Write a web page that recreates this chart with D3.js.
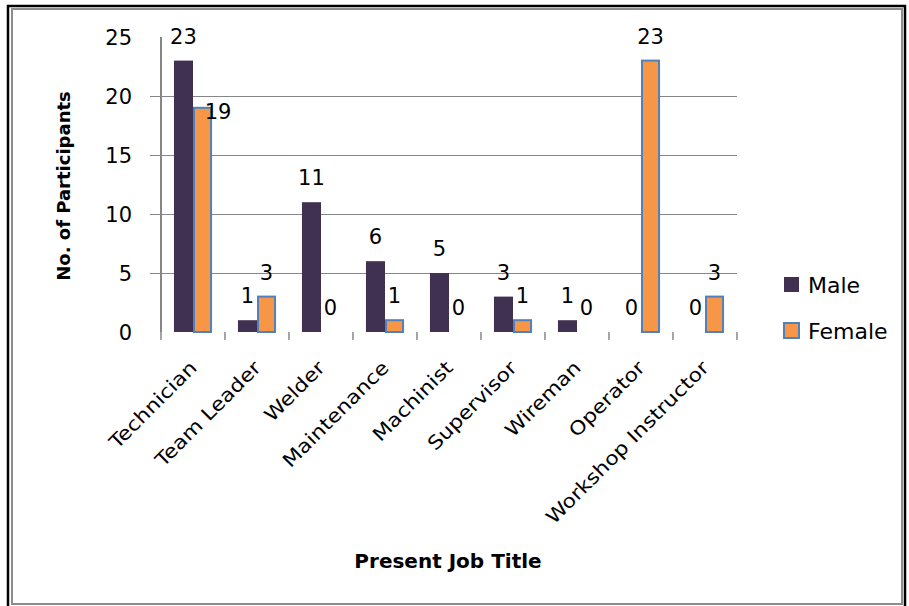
<!DOCTYPE html>
<html>
<head>
<meta charset="utf-8">
<script src="https://cdn.jsdelivr.net/npm/d3@7"></script>
<style>
  body { margin: 0; background: #fff; }
  text { font-family: "DejaVu Sans", sans-serif; fill: #000; }
</style>
</head>
<body>
<svg id="chart" width="909" height="606"></svg>
<script>

// data
const categories = ["Technician", "Team Leader", "Welder", "Maintenance", "Machinist",
                    "Supervisor", "Wireman", "Operator", "Workshop Instructor"];
const series = ["Male", "Female"];
const maleValues = [23, 1, 11, 6, 5, 3, 1, 0, 0];
const femaleValues = [19, 3, 0, 1, 0, 1, 0, 23, 3];
const yTicks = [0, 5, 10, 15, 20, 25];

const colors = { Male: "#403152", Female: "#F79646" };
const strokes = { Male: "none", Female: "#4F81BD" };

const plot = { left: 161, right: 737, top: 37, bottom: 332 };

const svg = d3.select("#chart");

// frame
svg.append("rect")
    .attr("x", 8).attr("y", 6)
    .attr("width", 897).attr("height", 605)
    .style("fill", "none")
    .style("stroke", "#000")
    .style("stroke-width", 2.5);
svg.append("rect")
    .attr("x", 12).attr("y", 9)
    .attr("width", 890).attr("height", 595)
    .style("fill", "none")
    .style("stroke", "#8c8c8c")
    .style("stroke-width", 2);

const x = d3.scaleBand()
    .domain(categories)
    .range([plot.left, plot.right]);

const xs = d3.scaleBand()
    .domain(series)
    .range([0, x.bandwidth()])
    .paddingOuter(0.68);

const y = d3.scaleLinear()
    .domain([0, 25])
    .range([plot.bottom, plot.top]);

//
// GRID + Y AXIS
//

const yAxis = d3.axisLeft(y)
    .tickValues(yTicks)
    .tickSize(-(plot.right - plot.left))
    .tickPadding(0);

const gy = svg.append("g")
    .attr("transform", `translate(${plot.left}, 0)`)
    .call(yAxis);
gy.select(".domain").remove();
gy.selectAll(".tick line")
    .attr("x1", -11)
    .style("stroke", "#868686")
    .style("stroke-width", 1.2);
gy.selectAll(".tick line").filter(d => d === 0 || d === 25).remove();
gy.selectAll(".tick text")
    .attr("x", -29)
    .attr("dy", "0.35em")
    .style("font-size", "21px")
    .style("font-family", "DejaVu Sans")
    .style("fill", "#000");

svg.append("line")
    .attr("x1", plot.left).attr("x2", plot.left)
    .attr("y1", plot.top).attr("y2", plot.bottom)
    .style("stroke", "#868686")
    .style("stroke-width", 2);

//
// X AXIS
//

const gx = svg.append("g")
    .attr("transform", `translate(0, ${plot.bottom})`);

gx.selectAll("line.sep")
    .data(d3.range(categories.length + 1))
    .enter().append("line")
        .attr("class", "sep")
        .attr("x1", i => plot.left + i * x.step())
        .attr("x2", i => plot.left + i * x.step())
        .attr("y1", 0)
        .attr("y2", 8)
        .style("stroke", "#868686")
        .style("stroke-width", 1.5);

// labels in the original are a little stretched along their length
gx.selectAll("text")
    .data(categories)
    .enter().append("text")
        .attr("transform", d => `translate(${x(d) + x.bandwidth() / 2 + 5}, 37) rotate(-45) scale(1.15, 1)`)
        .style("text-anchor", "end")
        .style("font-size", "19px")
        .text(d => d);

//
// BARS
//

const rows = categories.map((c, i) => ({ cat: c, Male: maleValues[i], Female: femaleValues[i] }));

const groups = svg.append("g")
    .selectAll("g")
    .data(rows)
    .enter().append("g")
        .attr("transform", d => `translate(${x(d.cat)}, 0)`);

const cells = groups.selectAll("g")
    .data(d => series.map(k => ({ cat: d.cat, key: k, value: d[k] })))
    .enter().append("g");

cells.filter(d => d.value > 0)
    .append("rect")
        .attr("x", d => xs(d.key) + (d.key === "Female" ? 1 : 0))
        .attr("y", d => y(d.value))
        .attr("width", d => xs.bandwidth() - (d.key === "Female" ? 2 : 0))
        .attr("height", d => y(0) - y(d.value))
        .style("fill", d => colors[d.key])
        .style("stroke", d => strokes[d.key])
        .style("stroke-width", 2);

cells.append("text")
    .attr("x", d => {
        // the female technician label sits beside its bar, as in the original
        if (d.key === "Female" && d.cat === "Technician") return xs(d.key) + xs.bandwidth() + 6;
        return xs(d.key) + xs.bandwidth() / 2;
    })
    .attr("y", d => {
        if (d.key === "Female" && d.cat === "Technician") return y(d.value) + 11;
        return y(d.value) - 17;
    })
    .style("text-anchor", "middle")
    .style("font-size", "21px")
    .text(d => d.value);

//
// TITLES
//

svg.append("text")
    .attr("transform", `translate(70, 186) rotate(-90)`)
    .style("text-anchor", "middle")
    .style("font-size", "18px")
    .style("font-weight", "bold")
    .text("No. of Participants");

svg.append("text")
    .attr("x", 448)
    .attr("y", 568)
    .style("text-anchor", "middle")
    .style("font-size", "20px")
    .style("font-weight", "bold")
    .text("Present Job Title");

//
// LEGEND
//

const legend = svg.append("g")
    .selectAll("g")
    .data(series)
    .enter().append("g")
        .attr("transform", (d, i) => `translate(784, ${277 + i * 46})`);

legend.append("rect")
    .attr("width", 15)
    .attr("height", 15)
    .style("fill", d => colors[d])
    .style("stroke", d => strokes[d])
    .style("stroke-width", 2);

legend.append("text")
    .attr("x", 24)
    .attr("y", 8)
    .attr("dy", "0.36em")
    .style("font-size", "22px")
    .text(d => d);

</script>
</body>
</html>
